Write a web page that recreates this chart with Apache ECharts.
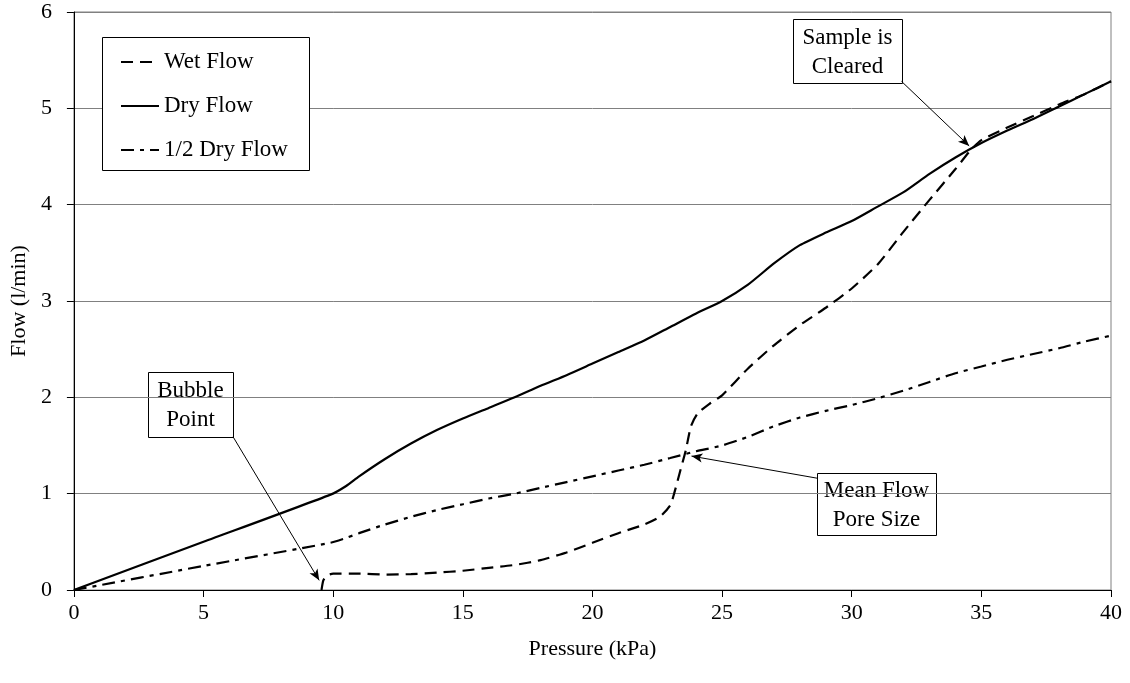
<!DOCTYPE html>
<html>
<head>
<meta charset="utf-8">
<script src="https://cdn.jsdelivr.net/npm/echarts@6/dist/echarts.min.js"></script>
<style>
  html, body { margin: 0; padding: 0; background: #fff; }
  #chart { width: 1130px; height: 683px; }
</style>
</head>
<body>
<div id="chart"></div>
<script>
// Flow vs pressure - wet / dry / half dry curves

const dryPressure = [0, 5, 9.9, 10.5, 11, 12, 13, 14, 15, 16, 17, 18, 19, 20, 21, 22, 23, 24, 25, 26, 27, 28, 29, 30, 31, 32, 33, 34, 35, 36, 37, 38, 39, 40];
const dryFlow = [0, 0.5, 0.99, 1.08, 1.18, 1.36, 1.52, 1.66, 1.78, 1.89, 2.0, 2.12, 2.23, 2.35, 2.47, 2.59, 2.73, 2.87, 3.0, 3.17, 3.39, 3.58, 3.71, 3.83, 3.98, 4.13, 4.32, 4.49, 4.64, 4.77, 4.89, 5.02, 5.15, 5.28];
const halfDryFlow = [0, 0.25, 0.49, 0.54, 0.59, 0.68, 0.76, 0.83, 0.89, 0.95, 1.0, 1.06, 1.12, 1.18, 1.24, 1.3, 1.37, 1.44, 1.5, 1.59, 1.7, 1.79, 1.86, 1.92, 1.99, 2.07, 2.16, 2.25, 2.32, 2.39, 2.45, 2.51, 2.58, 2.64];

const wetPressure = [9.55, 9.62, 9.75, 10, 11, 12, 13, 14, 15, 16, 17, 18, 19, 20, 21, 22, 22.6, 23.0, 23.15, 23.4, 23.6, 23.8, 24.05, 24.5, 25, 26, 27, 28, 29, 30, 31, 32, 33, 34, 34.6, 35, 36, 37, 38, 39, 40];
const wetFlow = [0, 0.1, 0.15, 0.17, 0.17, 0.16, 0.165, 0.18, 0.2, 0.23, 0.26, 0.31, 0.39, 0.49, 0.59, 0.68, 0.76, 0.88, 1.0, 1.25, 1.45, 1.7, 1.83, 1.93, 2.02, 2.3, 2.54, 2.75, 2.93, 3.13, 3.38, 3.72, 4.05, 4.37, 4.57, 4.67, 4.8, 4.92, 5.04, 5.15, 5.28];

const seriesNames = ['Wet Flow', 'Dry Flow', '1/2 Dry Flow'];

// annotation arrows: [from, to] in data coords
const bubbleArrow = [[6.14, 1.59], [9.46, 0.1]];
const meanFlowArrow = [[28.68, 1.16], [23.82, 1.39]];
const clearedArrow = [[31.92, 5.28], [34.53, 4.61]];

const FONT = "'Liberation Serif', 'Times New Roman', serif";

function pairs(xs, ys) {
    return xs.map((x, i) => [x, ys[i]]);
}

function arrow(a) {
    return [
        { coord: a[0], symbol: 'none' },
        { coord: a[1], symbol: 'arrow', symbolSize: [7, 11] }
    ];
}

function noteBox(x, y, w, h, text) {
    return {
        type: 'group',
        z: 30,
        children: [
            {
                type: 'rect',
                shape: { x: x + 0.5, y: y + 0.5, width: w, height: h },
                style: { fill: '#fff', stroke: '#000', lineWidth: 1 }
            },
            {
                type: 'text',
                style: {
                    text: text,
                    x: x + w / 2,
                    y: y + h / 2 + 1,
                    align: 'center',
                    verticalAlign: 'middle',
                    fontSize: 23,
                    lineHeight: 29,
                    fontFamily: FONT,
                    fill: '#000'
                }
            }
        ]
    };
}

const chart = echarts.init(document.getElementById('chart'));

const option = {
    animation: false,
    backgroundColor: '#fff',
    textStyle: { fontFamily: FONT, color: '#000' },
    grid: {
        left: 73, right: 19, top: 12, bottom: 93,
        show: true,
        borderColor: '#808080',
        borderWidth: 1
    },
    legend: {
        orient: 'vertical',
        left: 120,
        top: 50,
        padding: 0,
        z: 40,
        data: seriesNames,
        itemWidth: 38,
        itemHeight: 14,
        itemGap: 20,
        itemStyle: { opacity: 0 },
        textStyle: { fontFamily: FONT, fontSize: 23, color: '#000', lineHeight: 24 }
    },
    xAxis: {
        type: 'value',
        min: 0,
        max: 40,
        interval: 5,
        name: 'Pressure (kPa)',
        nameLocation: 'middle',
        nameGap: 48,
        nameTextStyle: { fontFamily: FONT, fontSize: 22, color: '#000' },
        axisLine: { lineStyle: { color: '#000', width: 1 } },
        axisTick: { length: 7, lineStyle: { color: '#000' } },
        axisLabel: { fontFamily: FONT, fontSize: 22, color: '#000', margin: 12 },
        splitLine: { show: false }
    },
    yAxis: {
        type: 'value',
        min: 0,
        max: 6,
        interval: 1,
        name: 'Flow (l/min)',
        nameLocation: 'middle',
        nameGap: 42,
        nameTextStyle: { fontFamily: FONT, fontSize: 22, color: '#000' },
        axisLine: { show: true, lineStyle: { color: '#000', width: 1 } },
        axisTick: { show: true, length: 7, lineStyle: { color: '#000' } },
        axisLabel: { fontFamily: FONT, fontSize: 22, color: '#000', margin: 22 },
        splitLine: { lineStyle: { color: '#808080', width: 1 } }
    },
    graphic: [
        {
            type: 'rect',
            z: 20,
            shape: { x: 102.5, y: 37.5, width: 207, height: 133 },
            style: { fill: '#fff', stroke: '#000', lineWidth: 1 }
        },
        noteBox(148, 372, 85, 65, 'Bubble\nPoint'),
        noteBox(817, 473, 119, 62, 'Mean Flow\nPore Size'),
        noteBox(793, 19, 109, 64, 'Sample is\nCleared')
    ],
    series: [
        {
            name: 'Wet Flow',
            type: 'line',
            data: pairs(wetPressure, wetFlow),
            symbol: 'none',
            smooth: 0.2,
            z: 4,
            lineStyle: { color: '#000', width: 2.2, type: [12, 7] },
            itemStyle: { color: '#000' }
        },
        {
            name: 'Dry Flow',
            type: 'line',
            data: pairs(dryPressure, dryFlow),
            symbol: 'none',
            smooth: 0.2,
            z: 3,
            lineStyle: { color: '#000', width: 2.2, type: 'solid' },
            itemStyle: { color: '#000' },
            markLine: {
                silent: true,
                animation: false,
                label: { show: false },
                lineStyle: { color: '#000', width: 1, type: 'solid' },
                data: [arrow(bubbleArrow), arrow(meanFlowArrow), arrow(clearedArrow)]
            }
        },
        {
            name: '1/2 Dry Flow',
            type: 'line',
            data: pairs(dryPressure, halfDryFlow),
            symbol: 'none',
            smooth: 0.2,
            z: 3,
            lineStyle: { color: '#000', width: 2.2, type: [13, 6, 4, 6] },
            itemStyle: { color: '#000' }
        }
    ]
};

chart.setOption(option);
</script>
</body>
</html>
